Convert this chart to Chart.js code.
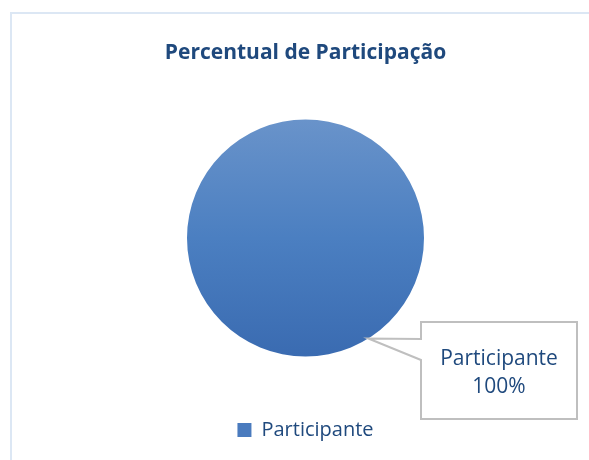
<!DOCTYPE html>
<html>
<head>
<meta charset="utf-8">
<script src="https://cdn.jsdelivr.net/npm/chart.js@4/dist/chart.umd.min.js"></script>
<style>
    body { margin: 0; background: #fff; }
    #frame { position: absolute; left: 10px; top: 12px; width: 620px; height: 500px;
             border-top: 2px solid #dce7f4; border-left: 2px solid #dce7f4; }
    #pieChart { position: absolute; left: 0; top: 0; }
</style>
</head>
<body>
<div id="frame"></div>
<canvas id="pieChart" width="589" height="460"></canvas>
<script>
// Chart data
const categories = ['Participante'];
const values = [100];
const chartTitle = 'Percentual de Participação';

const textColor = '#1f497d';

// Vertical gradient for the pie, built from the chart area
function pieFill(context) {
    const chart = context.chart;
    const area = chart.chartArea;
    if (!area) return '#4f81bd';
    const cy = (area.top + area.bottom) / 2;
    const r = 118.5;
    const grad = chart.ctx.createLinearGradient(0, cy - r, 0, cy + r);
    grad.addColorStop(0, '#6993ca');
    grad.addColorStop(0.5, '#4b7fc1');
    grad.addColorStop(1, '#3a6bb1');
    return grad;
}

// Draws the data label callout box with its pointer to the slice
const calloutPlugin = {
    id: 'callout',
    afterDatasetsDraw(chart) {
        const meta = chart.getDatasetMeta(0);
        const arc = meta.data[0];
        if (!arc) return;
        const ctx = chart.ctx;
        const total = values.reduce((s, v) => s + v, 0);
        const pct = Math.round(values[0] / total * 100) + '%';

        const ang = 58 * Math.PI / 180;
        const ax = arc.x + arc.outerRadius * Math.cos(ang);
        const ay = arc.y + arc.outerRadius * Math.sin(ang);

        const left = arc.x + 115.5;
        const top = arc.y + 84;
        const w = 156, h = 97;

        ctx.save();
        ctx.beginPath();
        ctx.moveTo(left, top);
        ctx.lineTo(left + w, top);
        ctx.lineTo(left + w, top + h);
        ctx.lineTo(left, top + h);
        ctx.lineTo(left, top + 38);
        ctx.lineTo(ax, ay);
        ctx.lineTo(left, top + 17);
        ctx.closePath();
        ctx.fillStyle = '#ffffff';
        ctx.fill();
        ctx.strokeStyle = '#bfbfbf';
        ctx.lineWidth = 2;
        ctx.stroke();

        ctx.fillStyle = textColor;
        ctx.font = '21px "Open Sans"';
        ctx.textAlign = 'center';
        ctx.textBaseline = 'alphabetic';
        ctx.fillText(categories[0], left + w / 2, top + 43);
        ctx.fillText(pct, left + w / 2, top + 71);
        ctx.restore();
    }
};

new Chart(document.getElementById('pieChart'), {
    type: 'pie',
    data: {
        labels: categories,
        datasets: [{
            data: values,
            backgroundColor: pieFill,
            borderWidth: 0,
            radius: 118.5
        }]
    },
    options: {
        responsive: false,
        animation: false,
        events: [],
        layout: { padding: { left: 22, top: 0, right: 0, bottom: 10 } },
        plugins: {
            title: {
                display: true,
                text: chartTitle,
                color: textColor,
                font: { family: 'Open Sans', size: 21, weight: 'bold' },
                padding: { top: 40.4, bottom: 10.4 }
            },
            legend: {
                display: true,
                position: 'bottom',
                labels: {
                    color: textColor,
                    font: { family: 'Open Sans', size: 20 },
                    boxWidth: 14,
                    boxHeight: 14,
                    padding: 20,
                    generateLabels(chart) {
                        return categories.map((c, i) => ({
                            text: c,
                            fillStyle: '#4a7bbe',
                            strokeStyle: '#4a7bbe',
                            fontColor: textColor,
                            lineWidth: 0,
                            index: i
                        }));
                    }
                }
            },
            tooltip: { enabled: false }
        }
    },
    plugins: [calloutPlugin]
});
</script>
</body>
</html>
